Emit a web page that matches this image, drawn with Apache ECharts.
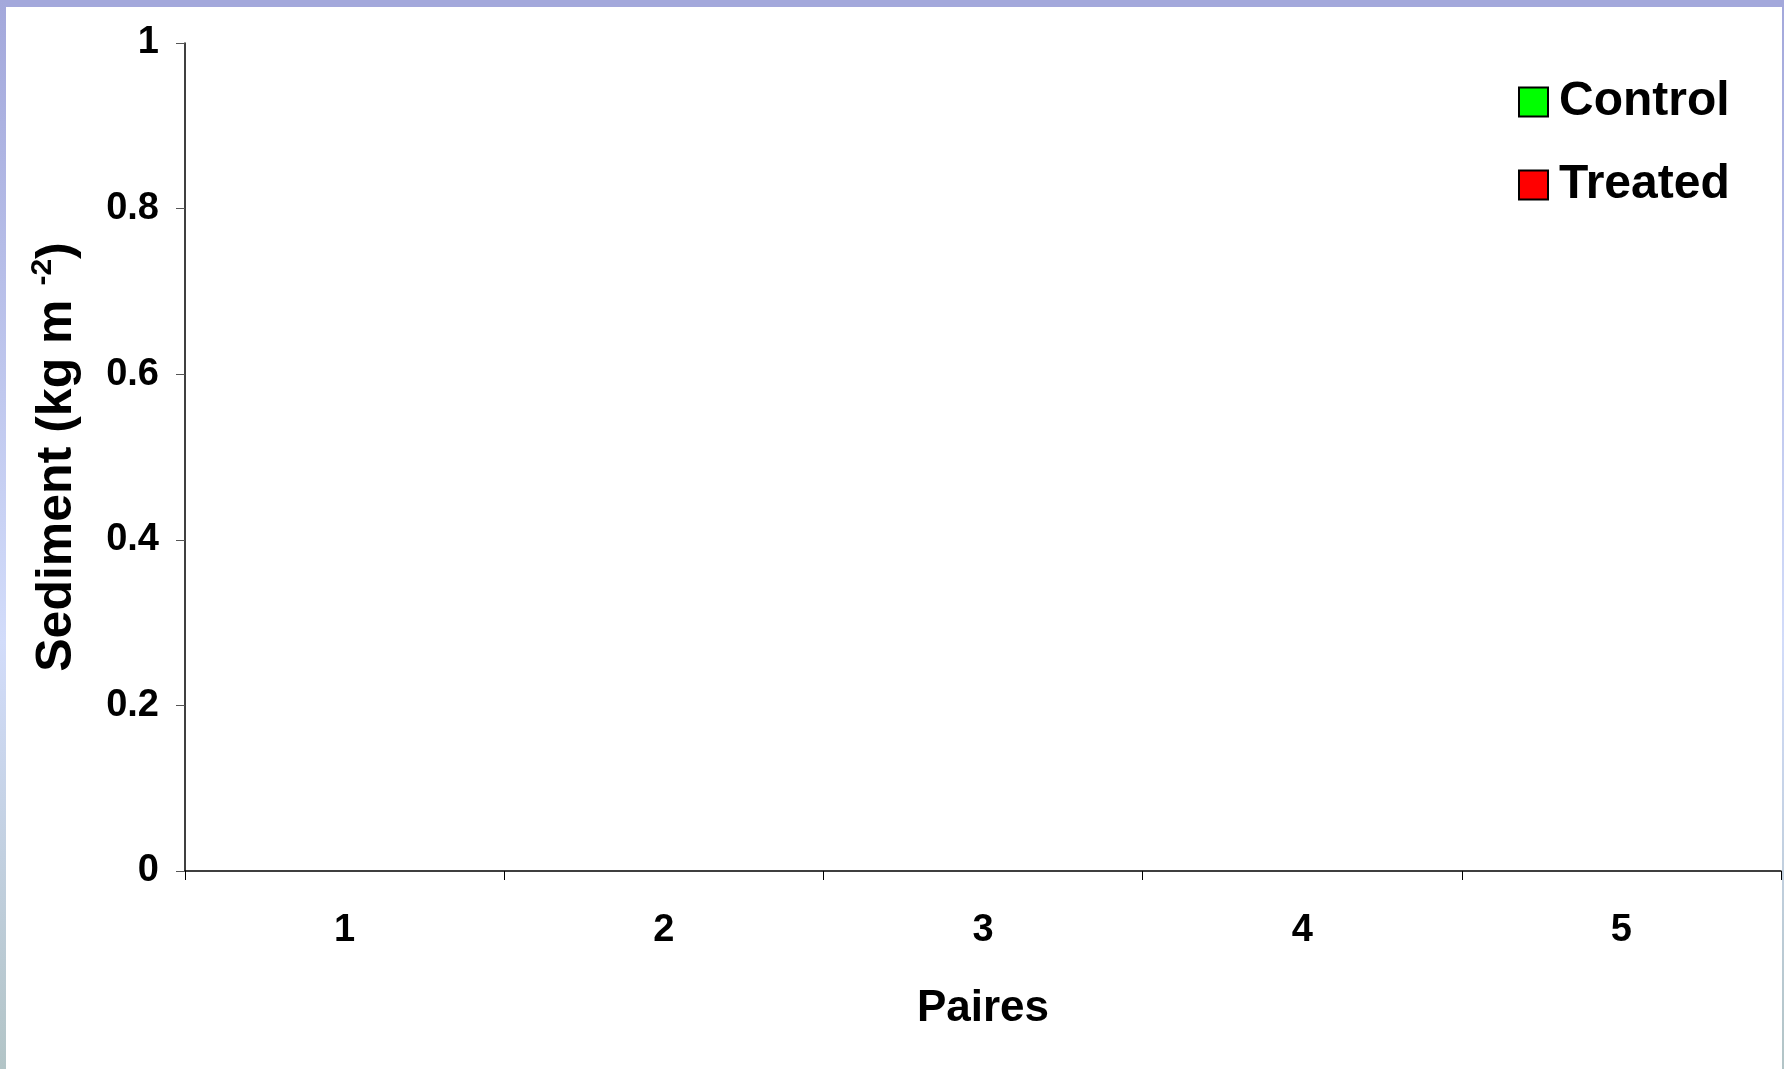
<!DOCTYPE html>
<html>
<head>
<meta charset="utf-8">
<script src="https://cdn.jsdelivr.net/npm/echarts@6/dist/echarts.min.js"></script>
<style>
html,body{margin:0;padding:0;background:#fff;}
#chart{width:1784px;height:1069px;}
</style>
</head>
<body>
<div id="chart"></div>
<script>
// Data (no bars are visible in the reference: all values empty)
const categories = ['1', '2', '3', '4', '5'];
const controlValues = [null, null, null, null, null];
const treatedValues = [null, null, null, null, null];
const seriesNames = ['Control', 'Treated'];
const yMin = 0, yMax = 1, yStep = 0.2;

const FONT = '"Liberation Sans", Arial, sans-serif';

const chart = echarts.init(document.getElementById('chart'), null, {renderer: 'canvas'});
const borderGrad = new echarts.graphic.LinearGradient(0, 0, 0, 1, [
  {offset: 0, color: '#a3a8db'},
  {offset: 0.6, color: '#d2dcfa'},
  {offset: 1, color: '#b2c4c6'}
]);
chart.setOption({
  backgroundColor: '#ffffff',
  animation: false,
  graphic: [
    {type: 'rect', left: 0, top: 0, shape: {width: 1784, height: 7}, style: {fill: '#a3a8db'}, silent: true},
    {type: 'rect', left: 0, top: 0, shape: {width: 6, height: 1069}, style: {fill: borderGrad}, silent: true},
    {type: 'rect', left: 1782, top: 0, shape: {width: 2, height: 1069}, style: {fill: borderGrad}, silent: true}
  ],
  grid: {left: 185, top: 43, right: 3, bottom: 198, containLabel: false},
  legend: {
    orient: 'vertical',
    left: 1513,
    top: 69,
    itemWidth: 29,
    itemHeight: 29,
    itemGap: 27,
    icon: 'rect',
    textStyle: {fontFamily: FONT, fontWeight: 'bold', fontSize: 48, color: '#000', lineHeight: 56, padding: [0, 0, 0, 6]},
    data: seriesNames
  },
  xAxis: {
    type: 'category',
    data: categories,
    boundaryGap: true,
    name: 'Paires',
    nameLocation: 'middle',
    nameGap: 116,
    nameTextStyle: {fontFamily: FONT, fontWeight: 'bold', fontSize: 44, color: '#000'},
    axisLine: {show: true, lineStyle: {color: '#000', width: 1.5}},
    axisTick: {show: true, alignWithLabel: false, length: 9, lineStyle: {color: '#000', width: 1}},
    axisLabel: {fontFamily: FONT, fontWeight: 'bold', fontSize: 38, color: '#000', margin: 41},
    splitLine: {show: false}
  },
  yAxis: {
    type: 'value',
    min: yMin,
    max: yMax,
    interval: yStep,
    name: '{a|Sediment (kg m }{s|-2}{a|)}',
    nameLocation: 'middle',
    nameRotate: 90,
    nameGap: 99,
    nameTextStyle: {
      fontFamily: FONT, fontWeight: 'bold', color: '#000',
      rich: {
        a: {fontFamily: FONT, fontWeight: 'bold', fontSize: 50, color: '#000', lineHeight: 58},
        s: {fontFamily: FONT, fontWeight: 'bold', fontSize: 30, color: '#000', verticalAlign: 'top', lineHeight: 30}
      }
    },
    axisLine: {show: true, lineStyle: {color: '#000', width: 1.5}},
    axisTick: {show: true, length: 9, lineStyle: {color: '#555', width: 1}},
    axisLabel: {fontFamily: FONT, fontWeight: 'bold', fontSize: 38, color: '#000', margin: 26},
    splitLine: {show: false}
  },
  series: [
    {name: seriesNames[0], type: 'bar', data: controlValues, itemStyle: {color: '#00ff00', borderColor: '#000', borderWidth: 2.5}},
    {name: seriesNames[1], type: 'bar', data: treatedValues, itemStyle: {color: '#ff0000', borderColor: '#000', borderWidth: 2.5}}
  ]
});
</script>
</body>
</html>
